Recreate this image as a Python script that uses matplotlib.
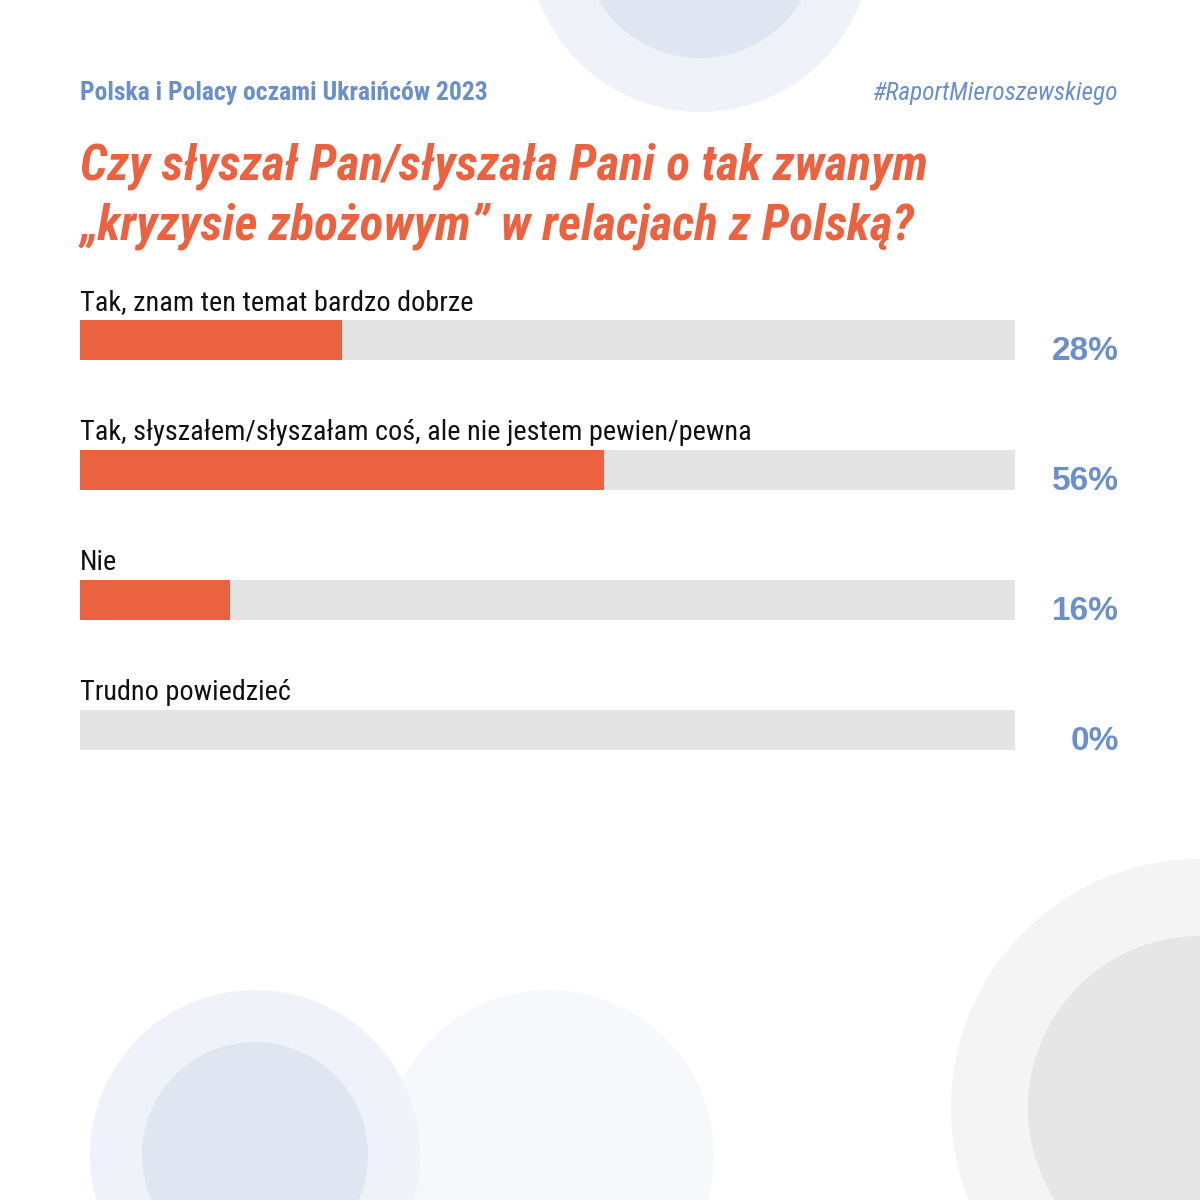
import matplotlib.pyplot as plt
from matplotlib.patches import Circle
from matplotlib import font_manager

# Data
categories = [
    'Tak, znam ten temat bardzo dobrze',
    'Tak, słyszałem/słyszałam coś, ale nie jestem pewien/pewna',
    'Nie',
    'Trudno powiedzieć',
]
values = [28, 56, 16, 0]
value_labels = ['28%', '56%', '16%', '0%']

header_left = 'Polska i Polacy oczami Ukraińców 2023'
header_right = '#RaportMieroszewskiego'
title_lines = ['Czy słyszał Pan/słyszała Pani o tak zwanym',
               '„kryzysie zbożowym” w relacjach z Polską?']

orange = '#EB6241'
blue = '#6A8FCB'
track = '#E4E4E4'

# pick the narrowest family that is actually installed
installed = {f.name for f in font_manager.fontManager.ttflist}
for cand in ['Roboto Condensed', 'Open Sans Condensed', 'Liberation Sans Narrow',
             'Noto Sans Condensed', 'Roboto']:
    if cand in installed:
        break
narrow = [cand, 'DejaVu Sans']

W = H = 1200
fig = plt.figure(figsize=(12, 12), dpi=100, facecolor='white')
renderer = fig.canvas.get_renderer()


def fit(t, width_px):
    # scale font so the text spans roughly the same width as in the source
    w = t.get_window_extent(renderer).width
    t.set_fontsize(t.get_fontsize() * width_px / w)
    return t.get_fontsize()


# Background layer in pixel coordinates
bg = fig.add_axes([0, 0, 1, 1])
bg.set_xlim(0, W)
bg.set_ylim(H, 0)
bg.axis('off')

circles = [
    ((700, -60), 172, '#EFF2F9', 1.0),
    ((700, -60), 118, '#DFE5F1', 1.0),
    ((255, 1155), 165, '#EFF2F9', 1.0),
    ((255, 1155), 113, '#DFE5F1', 1.0),
    ((549, 1155), 165, '#F2F4FA', 0.6),
    ((1200, 1108), 249, '#F4F4F4', 1.0),
    ((1200, 1108), 172, '#E6E6E6', 1.0),
]
for (cx, cy), r, col, a in circles:
    bg.add_patch(Circle((cx, cy), r, color=col, alpha=a, lw=0))

h1 = bg.text(80, 100, header_left, family=narrow, fontsize=19, fontweight='bold',
             color=blue, ha='left', va='baseline')
hs = fit(h1, 409)
h2 = bg.text(1118, 100, header_right, family=narrow, fontsize=19, style='italic',
             color=blue, ha='right', va='baseline')
fit(h2, 246)

t1 = bg.text(80, 180, title_lines[0], family=narrow, fontsize=30,
             fontweight='bold', style='italic', color=orange, ha='left', va='baseline')
ts = fit(t1, 847)
bg.text(80, 240, title_lines[1], family=narrow, fontsize=ts,
        fontweight='bold', style='italic', color=orange, ha='left', va='baseline')

# Bars
ax = fig.add_axes([80 / W, 1 - 795 / H, (1015 - 80) / W, 520 / H])
ax.patch.set_alpha(0)
ypos = list(range(len(categories)))
bar_h = 40 / 130
ax.barh(ypos, [100] * len(values), height=bar_h, color=track, lw=0)
ax.barh(ypos, values, height=bar_h, color=orange, lw=0)
ax.set_xlim(0, 100)
ax.set_ylim(3.5, -0.5)
ax.axis('off')

lab0 = ax.text(0, -30 / 130, categories[0], family=narrow, fontsize=18,
               color='#111111', ha='left', va='baseline')
ls = fit(lab0, 392)
for i, cat in enumerate(categories[1:], start=1):
    ax.text(0, i - 30 / 130, cat, family=narrow, fontsize=ls, color='#111111',
            ha='left', va='baseline')

for i, lab in enumerate(value_labels):
    ax.text(111.1, i + 20 / 130, lab, fontsize=24, fontweight='bold',
            family=['Liberation Sans', 'DejaVu Sans'], color=blue,
            ha='right', va='baseline')

fig.savefig('out.png', dpi=100, facecolor='white')
